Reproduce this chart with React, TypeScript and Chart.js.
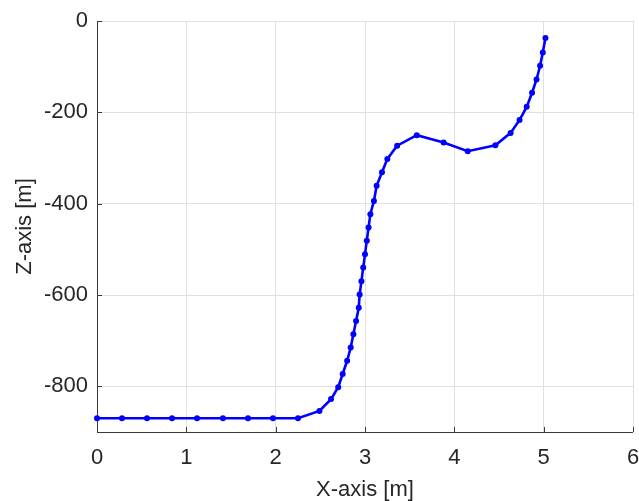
import React, { useEffect, useRef } from "react";
import { Chart, registerables } from "chart.js";

Chart.register(...registerables);

// Trajectory samples: horizontal position (m) and depth (m)
const xValues = [
  0, 0.28, 0.56, 0.84, 1.12, 1.41, 1.69, 1.97, 2.25, 2.49,
  2.62, 2.7, 2.75, 2.8, 2.84, 2.87, 2.9, 2.93, 2.94, 2.96,
  2.98, 3.0, 3.02, 3.04, 3.06, 3.1, 3.13, 3.19, 3.25, 3.36,
  3.58, 3.88, 4.15, 4.46, 4.63, 4.73, 4.81, 4.87, 4.92, 4.96,
  4.99, 5.02,
];
const zValues = [
  -870, -870, -870, -870, -870, -870, -870, -870, -870, -854,
  -828, -802, -773, -744, -715, -686, -657, -628, -599, -570,
  -540, -511, -481, -452, -423, -394, -361, -331, -302, -273,
  -250, -266, -285, -272, -245, -217, -188, -157, -128, -98,
  -69, -37,
];

const xTicks = [0, 1, 2, 3, 4, 5, 6];
const zTicks = [-800, -600, -400, -200, 0];
const xTitle = "X-axis [m]";
const zTitle = "Z-axis [m]";

const FONT = "'Liberation Sans', Arial, Helvetica, sans-serif";
const TEXT = "#262626";
const AXIS = "#3a3a3a";
const GRID = "#e0e0e0";

// Left/bottom axis lines with short inward tick marks
const axisBox = {
  id: "axisBox",
  beforeDatasetsDraw(chart: any) {
    const { ctx, chartArea, scales } = chart;
    const { left, right, top, bottom } = chartArea;
    const len = 5;
    ctx.save();
    ctx.strokeStyle = AXIS;
    ctx.lineWidth = 1;
    ctx.beginPath();
    ctx.moveTo(left + 0.5, top);
    ctx.lineTo(left + 0.5, bottom + 1);
    ctx.moveTo(left, bottom + 0.5);
    ctx.lineTo(right, bottom + 0.5);
    for (const v of xTicks) {
      const px = Math.round(scales.x.getPixelForValue(v)) + 0.5;
      ctx.moveTo(px, bottom);
      ctx.lineTo(px, bottom - len);
    }
    for (const v of zTicks) {
      const py = Math.round(scales.y.getPixelForValue(v)) + 0.5;
      ctx.moveTo(left, py);
      ctx.lineTo(left + len, py);
    }
    ctx.stroke();
    ctx.restore();
  },
};

export default function App() {
  const canvasRef = useRef<HTMLCanvasElement | null>(null);

  useEffect(() => {
    const canvas = canvasRef.current;
    if (!canvas) return;
    const points = xValues.map((x, i) => ({ x, y: zValues[i] }));
    const chart = new Chart(canvas, {
      type: "scatter",
      data: {
        datasets: [
          {
            data: points,
            showLine: true,
            borderColor: "#0000ff",
            backgroundColor: "#0000ff",
            borderWidth: 2.6,
            pointRadius: 3,
            pointHoverRadius: 3,
            pointBorderWidth: 0,
            clip: false,
          } as any,
        ],
      },
      plugins: [axisBox],
      options: {
        responsive: false,
        animation: false,
        events: [],
        layout: { padding: { top: 21, right: 0, left: 0, bottom: 0 } },
        plugins: {
          legend: { display: false },
          tooltip: { enabled: false },
        },
        scales: {
          x: {
            type: "linear",
            min: 0,
            max: 6,
            afterBuildTicks: (s: any) => {
              s.ticks = xTicks.map((value) => ({ value }));
            },
            afterFit: (s: any) => {
              s.height = 69;
              s.paddingLeft = 0;
              s.paddingRight = 6;
            },
            grid: { color: GRID, lineWidth: 1, drawTicks: false },
            border: { display: false },
            ticks: {
              padding: 13,
              color: TEXT,
              font: { family: FONT, size: 22 },
              maxRotation: 0,
              autoSkip: false,
              callback: (v: any) => String(v),
            },
            title: {
              display: true,
              text: xTitle,
              color: TEXT,
              font: { family: FONT, size: 22 },
              padding: { top: 0, bottom: -2 },
            },
          },
          y: {
            type: "linear",
            min: -900,
            max: 0,
            afterBuildTicks: (s: any) => {
              s.ticks = zTicks.map((value) => ({ value }));
            },
            afterFit: (s: any) => {
              s.width = 97;
              s.paddingTop = 0;
              s.paddingBottom = 0;
            },
            grid: { color: GRID, lineWidth: 1, drawTicks: false },
            border: { display: false },
            ticks: {
              padding: 9,
              color: TEXT,
              font: { family: FONT, size: 22 },
              autoSkip: false,
              callback: (v: any) => String(v),
            },
            title: {
              display: true,
              text: zTitle,
              color: TEXT,
              font: { family: FONT, size: 22 },
              padding: { top: 12, bottom: 0 },
            },
          },
        },
      },
    });
    return () => chart.destroy();
  }, []);

  return (
    <div style={{ position: "absolute", left: 0, top: 0, width: 639, height: 501, background: "#ffffff" }}>
      <canvas ref={canvasRef} width={639} height={501} style={{ display: "block" }} />
    </div>
  );
}
